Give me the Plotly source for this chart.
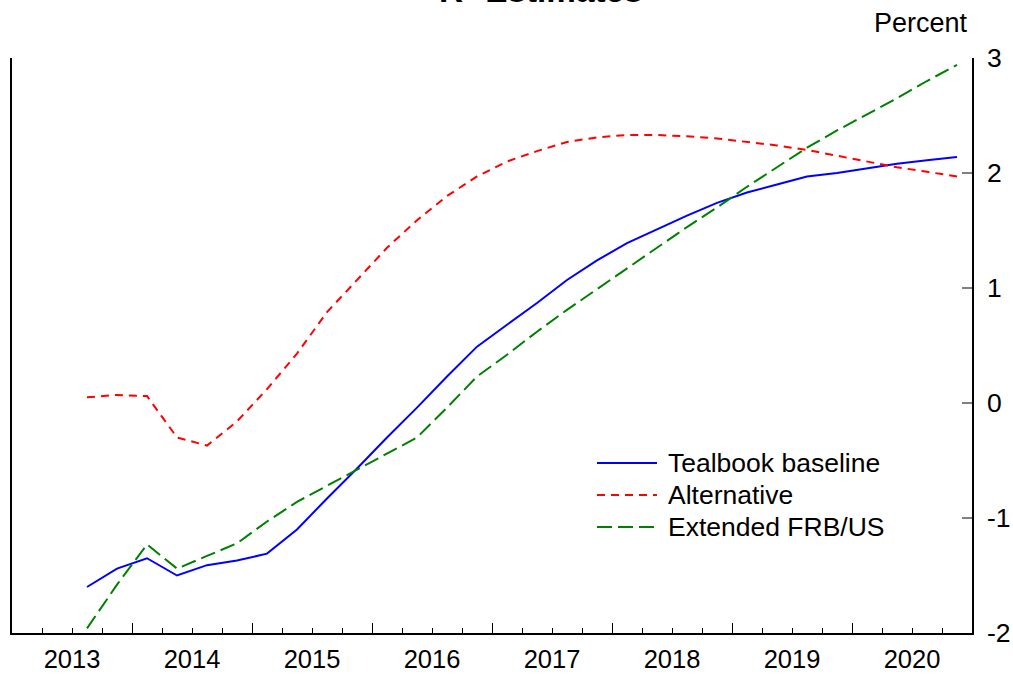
import plotly.graph_objects as go

quarters = ["2013Q3", "2013Q4",
            "2014Q1", "2014Q2", "2014Q3", "2014Q4",
            "2015Q1", "2015Q2", "2015Q3", "2015Q4",
            "2016Q1", "2016Q2", "2016Q3", "2016Q4",
            "2017Q1", "2017Q2", "2017Q3", "2017Q4",
            "2018Q1", "2018Q2", "2018Q3", "2018Q4",
            "2019Q1", "2019Q2", "2019Q3", "2019Q4",
            "2020Q1", "2020Q2", "2020Q3", "2020Q4"]

tealbook = [-1.60, -1.44,
            -1.35, -1.50, -1.41, -1.37,
            -1.31, -1.10, -0.83, -0.57,
            -0.30, -0.04, 0.23, 0.49,
            0.68, 0.87, 1.07, 1.24,
            1.39, 1.51, 1.63, 1.74,
            1.83, 1.90, 1.97, 2.00,
            2.04, 2.08, 2.11, 2.14]

alternative = [0.05, 0.07,
               0.06, -0.30, -0.37, -0.16,
               0.12, 0.43, 0.79, 1.07,
               1.35, 1.59, 1.80, 1.97,
               2.10, 2.19, 2.27, 2.31,
               2.33, 2.33, 2.32, 2.30,
               2.27, 2.24, 2.20, 2.15,
               2.10, 2.05, 2.01, 1.97]

extended_frbus = [-1.96, -1.58,
                  -1.23, -1.44, -1.33, -1.22,
                  -1.03, -0.86, -0.72, -0.58,
                  -0.44, -0.30, -0.04, 0.23,
                  0.42, 0.62, 0.81, 0.99,
                  1.17, 1.35, 1.53, 1.70,
                  1.88, 2.05, 2.22, 2.37,
                  2.51, 2.65, 2.80, 2.94]

year_labels = ["2013", "2014", "2015", "2016", "2017", "2018", "2019", "2020"]
y_ticks = [-2, -1, 0, 1, 2, 3]
y_tick_labels = ["-2", "-1", "0", "1", "2", "3"]

series_names = ["Tealbook baseline", "Alternative", "Extended FRB/US"]
series_colors = ["#0000ff", "#ff0000", "#008000"]
series_dash = ["solid", "8px,6px", "15px,6px"]


def q_to_x(q):
    year, qn = q.split("Q")
    return int(year) + (int(qn) - 1) / 4 + 0.125


x = [q_to_x(q) for q in quarters]
years = [int(y) for y in year_labels]

FONT = "Liberation Sans, Arial, sans-serif"
W, H = 1013, 674
ML, MR, MT, MB = 12, 41, 58, 41
PW, PH = W - ML - MR, H - MT - MB


def paper_x(px):
    return (px - ML) / PW


def paper_y(py):
    return (H - MB - py) / PH


fig = go.Figure()
for name, vals, col, dash in zip(series_names, [tealbook, alternative, extended_frbus],
                                 series_colors, series_dash):
    fig.add_trace(go.Scatter(x=x, y=vals, mode="lines", name=name,
                             line=dict(color=col, width=2, dash=dash),
                             showlegend=False))

x_range = [years[0], years[-1] + 1]

# invisible trace for label axis
fig.add_trace(go.Scatter(x=x_range, y=[0, 0], xaxis="x2",
                         mode="lines", line=dict(width=0), opacity=0,
                         hoverinfo="skip", showlegend=False))

FS = 26.5

fig.update_layout(
    width=W, height=H,
    margin=dict(l=ML, r=MR, t=MT, b=MB, autoexpand=False),
    paper_bgcolor="white", plot_bgcolor="white",
    font=dict(family=FONT, size=FS, color="black"),
    xaxis=dict(range=x_range, showgrid=False, zeroline=False, automargin=False,
               showline=True, linecolor="black", linewidth=1.5,
               tickvals=years + [years[-1] + 1], ticks="inside", ticklen=10,
               tickcolor="black", tickwidth=1, showticklabels=False,
               minor=dict(tickvals=[yv + k / 4 for yv in years for k in (1, 2, 3)],
                          ticks="inside", ticklen=5, tickcolor="black", tickwidth=1)),
    xaxis2=dict(range=x_range, overlaying="x", side="bottom", showgrid=False,
                zeroline=False, showline=False, automargin=False,
                tickvals=[yv + 0.5 for yv in years], ticktext=year_labels,
                ticks="", ticklabelstandoff=8,
                tickfont=dict(size=25.5, color="black")),
    yaxis=dict(range=[-2, 3], side="right", showgrid=False, zeroline=False,
               automargin=False,
               showline=True, linecolor="black", linewidth=1.5, mirror=True,
               tickvals=y_ticks, ticktext=y_tick_labels, ticks="inside", ticklen=10,
               tickcolor="#808080", tickwidth=1.5, ticklabelstandoff=8,
               tickfont=dict(size=FS, color="black")),
)

fig.add_annotation(text="<b>R* Estimates</b>", xref="paper", yref="paper",
                   x=paper_x(541), y=1 + (MT - 11) / PH, xanchor="center", yanchor="bottom",
                   showarrow=False, font=dict(size=33.3, family=FONT, color="black"))
fig.add_annotation(text="Percent", xref="paper", yref="paper",
                   x=paper_x(921), y=paper_y(23), xanchor="center", yanchor="middle",
                   showarrow=False, font=dict(size=27, family=FONT, color="black"))

# manual legend
leg_rows_px = [463, 495, 527]
for name, col, dash, ypx in zip(series_names, series_colors, series_dash, leg_rows_px):
    yp = paper_y(ypx)
    fig.add_shape(type="line", xref="paper", yref="paper",
                  x0=paper_x(597), x1=paper_x(657), y0=yp, y1=yp,
                  line=dict(color=col, width=2, dash=dash))
    fig.add_annotation(text=name, xref="paper", yref="paper",
                       x=paper_x(666), y=yp, xanchor="left", yanchor="middle",
                       showarrow=False, font=dict(size=FS, family=FONT, color="black"))

fig.write_html("out.html",
               config={"displayModeBar": False},
               post_script="document.body.style.margin='0';document.body.style.overflow='hidden';"
                           "document.documentElement.style.overflow='hidden';")
